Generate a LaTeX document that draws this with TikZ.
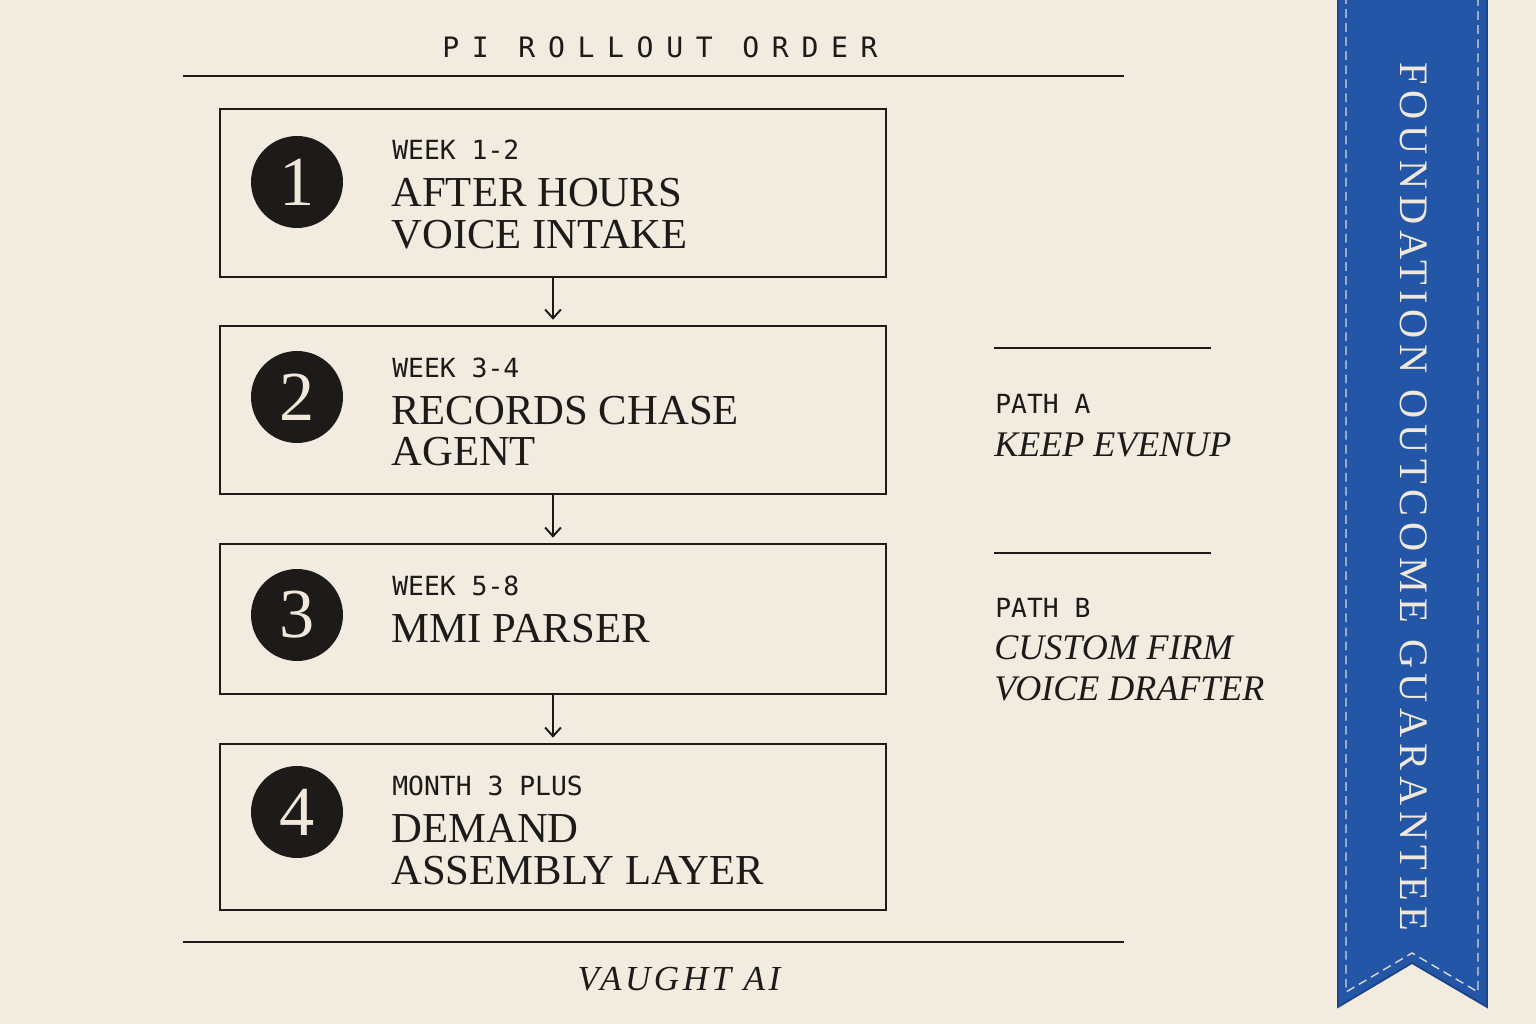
\documentclass[tikz,border=0pt]{standalone}
\usepackage{fontspec}
\setmainfont{Liberation Serif}
\newfontfamily\monof{DejaVu Sans Mono}
\newfontfamily\headf{DejaVu Sans Mono}[LetterSpace=45]
\newfontfamily\ribbonf{Liberation Serif}[LetterSpace=14]
\newfontfamily\footf{Liberation Serif}[LetterSpace=10]
\usetikzlibrary{arrows.meta}
\definecolor{paper}{RGB}{241,235,224}
\definecolor{ink}{RGB}{28,27,25}
\definecolor{ribbonblue}{RGB}{36,86,168}
\definecolor{ribbonedge}{RGB}{28,66,135}
\definecolor{cream}{RGB}{240,232,218}
\tikzset{
  stepbox/.style={draw=ink, line width=1.2pt, minimum width=13.32cm, inner sep=0pt},
  numdisc/.style={circle, fill=ink, minimum size=1.84cm, inner sep=0pt, text=cream, font=\fontsize{40}{40}\selectfont},
  weeklbl/.style={anchor=base west, text=ink, inner sep=0pt, font=\monof\fontsize{15}{15}\selectfont},
  steptitle/.style={anchor=base west, text=ink, inner sep=0pt, font=\fontsize{24.3}{24.3}\selectfont},
  pathtitle/.style={anchor=base west, text=ink, inner sep=0pt, font=\itshape\fontsize{20.5}{20.5}\selectfont},
  flowarrow/.style={draw=ink, line width=1.1pt, -{Straight Barb[length=5pt,width=9pt]}},
  rulestyle/.style={draw=ink, line width=1.1pt},
  stitch/.style={draw=cream!90!ribbonblue, line width=0.8pt, dash pattern=on 5pt off 3pt}
}
\begin{document}
\begin{tikzpicture}[x=0.02cm,y=-0.02cm]
\fill[paper] (0,0) rectangle (1536,1024);
\useasboundingbox (0,0) rectangle (1536,1024);

% title and rules
\node[anchor=base, text=ink, inner sep=0pt, font=\headf\fontsize{16}{16}\selectfont] (title) at (660,58) {PI ROLLOUT ORDER};
\coordinate (tl) at (183,76); \coordinate (tr) at (1124,76);
\draw[rulestyle] (tl) -- (tr);
\coordinate (bl) at (183,942); \coordinate (br) at (1124,942);
\draw[rulestyle] (bl) -- (br);
\node[anchor=base, text=ink, inner sep=0pt, font=\footf\itshape\fontsize{20}{20}\selectfont] (footer) at (679,990) {VAUGHT AI};

% step boxes
\node[stepbox, minimum height=3.36cm] (b1) at (553,193) {};
\node[stepbox, minimum height=3.36cm] (b2) at (553,410) {};
\node[stepbox, minimum height=3.00cm] (b3) at (553,619) {};
\node[stepbox, minimum height=3.32cm] (b4) at (553,827) {};

\node[numdisc] (n1) at (297,182) {1};
\node[numdisc] (n2) at (297,397) {2};
\node[numdisc] (n3) at (297,615) {3};
\node[numdisc] (n4) at (297,812) {4};

\node[weeklbl] (w1) at (392,160) {WEEK 1-2};
\node[steptitle] (t1a) at (391,207) {AFTER HOURS};
\node[steptitle] (t1b) at (391,248) {VOICE INTAKE};

\node[weeklbl] (w2) at (392,377) {WEEK 3-4};
\node[steptitle] (t2a) at (391,424) {RECORDS CHASE};
\node[steptitle] (t2b) at (391,465) {AGENT};

\node[weeklbl] (w3) at (392,595) {WEEK 5-8};
\node[steptitle] (t3a) at (391,642) {MMI PARSER};

\node[weeklbl] (w4) at (392,795) {MONTH 3 PLUS};
\node[steptitle] (t4a) at (391,842) {DEMAND};
\node[steptitle] (t4b) at (391,884) {ASSEMBLY LAYER};

\draw[flowarrow] (b1.south) -- ([yshift=3pt]b2.north);
\draw[flowarrow] (b2.south) -- ([yshift=3pt]b3.north);
\draw[flowarrow] (b3.south) -- ([yshift=3pt]b4.north);

% paths
\coordinate (pa1) at (994,348); \coordinate (pa2) at (1211,348);
\draw[rulestyle] (pa1) -- (pa2);
\node[weeklbl] (pal) at (995,413) {PATH A};
\node[pathtitle] (pat) at (994,456) {KEEP EVENUP};

\coordinate (pb1) at (994,553); \coordinate (pb2) at (1211,553);
\draw[rulestyle] (pb1) -- (pb2);
\node[weeklbl] (pbl) at (995,617) {PATH B};
\node[pathtitle] (pbt1) at (994,659) {CUSTOM FIRM};
\node[pathtitle] (pbt2) at (994,700) {VOICE DRAFTER};

% ribbon
\fill[ribbonblue, draw=ribbonedge, line width=1pt] (1338,-5) -- (1487,-5) -- (1487,1007) -- (1412,963) -- (1338,1007) -- cycle;
\draw[stitch] (1346,-5) -- (1346,992) -- (1412,953) -- (1478,992) -- (1478,-5);
\node[rotate=-90, text=cream, inner sep=0pt, font=\ribbonf\fontsize{23}{23}\selectfont] (rib) at (1414,497) {FOUNDATION OUTCOME GUARANTEE};
\end{tikzpicture}
\end{document}
